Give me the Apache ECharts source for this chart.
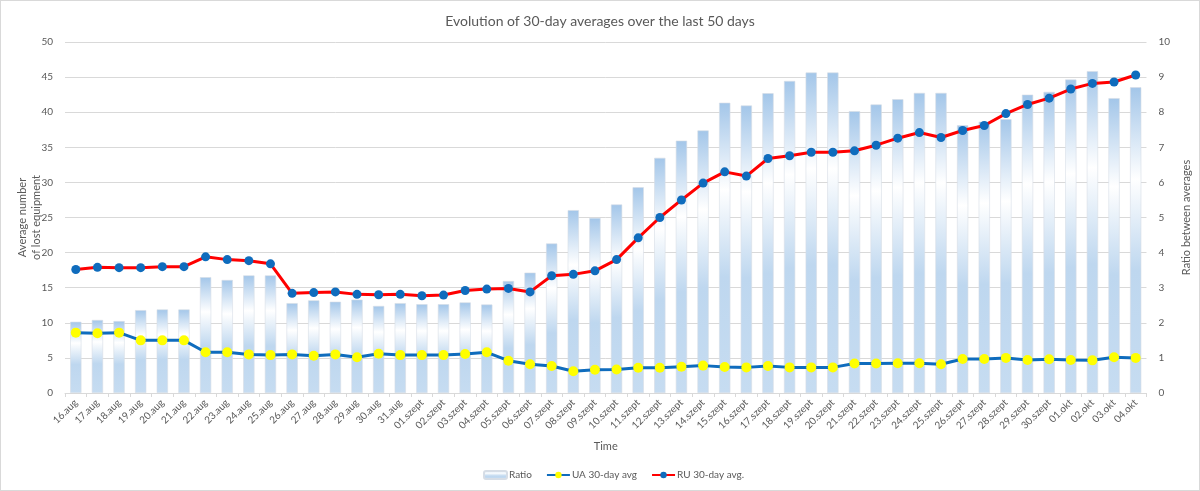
<!DOCTYPE html>
<html>
<head>
<meta charset="utf-8">
<script src="https://cdn.jsdelivr.net/npm/echarts@6/dist/echarts.min.js"></script>
<style>
  html, body { margin: 0; padding: 0; background: #fff; }
  #frame { position: absolute; left: 0; top: 0; width: 1198px; height: 489px; border: 1px solid #d9d9d9; }
  #chart { width: 1200px; height: 491px; }
</style>
</head>
<body>
<div id="frame"></div>
<div id="chart"></div>
<script>
var days = [
  "16.aug", "17.aug", "18.aug", "19.aug", "20.aug", "21.aug", "22.aug", "23.aug",
  "24.aug", "25.aug", "26.aug", "27.aug", "28.aug", "29.aug", "30.aug", "31.aug",
  "01.szept", "02.szept", "03.szept", "04.szept", "05.szept", "06.szept", "07.szept",
  "08.szept", "09.szept", "10.szept", "11.szept", "12.szept", "13.szept", "14.szept",
  "15.szept", "16.szept", "17.szept", "18.szept", "19.szept", "20.szept", "21.szept",
  "22.szept", "23.szept", "24.szept", "25.szept", "26.szept", "27.szept", "28.szept",
  "29.szept", "30.szept", "01.okt", "02.okt", "03.okt", "04.okt"
];
var ratio = [
  2.03, 2.08, 2.05, 2.36, 2.38, 2.38, 3.3, 3.22, 3.35, 3.35, 2.56, 2.64, 2.6, 2.66, 2.48, 2.56,
  2.53, 2.53, 2.58, 2.52, 3.19, 3.43, 4.26, 5.21, 4.99, 5.37, 5.86, 6.7, 7.19, 7.48,
  8.27, 8.19, 8.54, 8.89, 9.13, 9.13, 8.03, 8.22, 8.37, 8.55, 8.55, 7.63, 7.73, 7.8,
  8.5, 8.58, 8.93, 9.17, 8.4, 8.71
];
var uaAvg = [
  8.6, 8.5, 8.6, 7.5, 7.5, 7.5, 5.8, 5.8, 5.5, 5.4, 5.5, 5.3, 5.5, 5.1, 5.6, 5.4,
  5.4, 5.4, 5.55, 5.8, 4.6, 4.1, 3.85, 3.1, 3.3, 3.35, 3.6, 3.6, 3.75, 3.9,
  3.7, 3.65, 3.85, 3.65, 3.65, 3.65, 4.2, 4.2, 4.25, 4.25, 4.1, 4.85, 4.85, 5.0,
  4.7, 4.8, 4.7, 4.65, 5.1, 5.0
];
var ruAvg = [
  17.6, 17.9, 17.85, 17.85, 18.0, 18.0, 19.4, 19.0, 18.85, 18.4, 14.2, 14.3, 14.4, 14.05, 14.0, 14.05,
  13.85, 13.95, 14.6, 14.8, 14.9, 14.4, 16.7, 16.9, 17.4, 19.0, 22.1, 25.0, 27.5, 29.9,
  31.5, 30.9, 33.4, 33.8, 34.3, 34.3, 34.5, 35.3, 36.3, 37.1, 36.4, 37.4, 38.1, 39.8,
  41.1, 42.0, 43.3, 44.1, 44.3, 45.3
];
var leftTicks = { min: 0, max: 50, interval: 5 };
var rightTicks = { min: 0, max: 10, interval: 1 };

var font = "Lato, 'Noto Sans', sans-serif";
var grey = "#595959";

var chart = echarts.init(document.getElementById("chart"));

var barFill = new echarts.graphic.LinearGradient(0, 0, 0, 1, [
  { offset: 0, color: "#a3c6e9" },
  { offset: 0.3, color: "#ffffff" },
  { offset: 0.6, color: "#bed7ef" },
  { offset: 1, color: "#c6dcf1" }
]);

var option = {
  animation: false,
  textStyle: { fontFamily: font },
  title: {
    text: "Evolution of 30-day averages over the last 50 days",
    left: "center",
    top: 9,
    textStyle: { fontFamily: font, fontSize: 14, fontWeight: "normal", color: grey }
  },
  legend: {
    bottom: 6,
    left: 478,
    itemGap: 14,
    itemWidth: 23,
    itemHeight: 8,
    textStyle: { fontFamily: font, fontSize: 10, color: grey, padding: [0, 0, 0, -3] },
    data: ["Ratio", "UA 30-day avg", "RU 30-day avg."]
  },
  grid: { left: 65, right: 52, top: 42, bottom: 98 },
  xAxis: {
    type: "category",
    data: days,
    name: "Time",
    nameLocation: "middle",
    nameGap: 48,
    nameTextStyle: { fontFamily: font, fontSize: 11, color: grey },
    axisLine: { lineStyle: { color: "#d9d9d9" } },
    axisTick: { show: true, length: 4, lineStyle: { color: "#d9d9d9" } },
    axisLabel: { rotate: 45, fontSize: 10, color: grey, margin: 8, interval: 0 }
  },
  yAxis: [
    {
      type: "value",
      min: leftTicks.min,
      max: leftTicks.max,
      interval: leftTicks.interval,
      name: "Average number\nof lost equipment",
      nameLocation: "middle",
      nameGap: 22,
      nameMoveOverlap: false,
      nameTextStyle: { fontFamily: font, fontSize: 11, color: grey, lineHeight: 14 },
      axisLabel: { fontSize: 10, color: grey, margin: 12 },
      splitLine: { lineStyle: { color: "#d9d9d9" } },
      axisLine: { show: false },
      axisTick: { show: false }
    },
    {
      type: "value",
      min: rightTicks.min,
      max: rightTicks.max,
      interval: rightTicks.interval,
      name: "Ratio between averages",
      nameLocation: "middle",
      nameGap: 22,
      nameRotate: 90,
      nameTextStyle: { fontFamily: font, fontSize: 11, color: grey },
      axisLabel: { fontSize: 10, color: grey, margin: 12 },
      splitLine: { show: false },
      axisLine: { show: false },
      axisTick: { show: false }
    }
  ],
  series: [
    {
      name: "Ratio",
      type: "bar",
      yAxisIndex: 1,
      data: ratio,
      barCategoryGap: "48%",
      itemStyle: { color: barFill, borderColor: "#d6dde6", borderWidth: 0.6 },
      z: 1
    },
    {
      name: "UA 30-day avg",
      type: "line",
      yAxisIndex: 0,
      data: uaAvg,
      symbol: "circle",
      symbolSize: 10,
      lineStyle: { color: "#0f6cbd", width: 3 },
      itemStyle: { color: "#ffff00", borderWidth: 0 },
      z: 3
    },
    {
      name: "RU 30-day avg.",
      type: "line",
      yAxisIndex: 0,
      data: ruAvg,
      symbol: "circle",
      symbolSize: 9,
      lineStyle: { color: "#ff0000", width: 3 },
      itemStyle: { color: "#0f6cbd", borderWidth: 0 },
      z: 4
    }
  ]
};

chart.setOption(option);
</script>
</body>
</html>
